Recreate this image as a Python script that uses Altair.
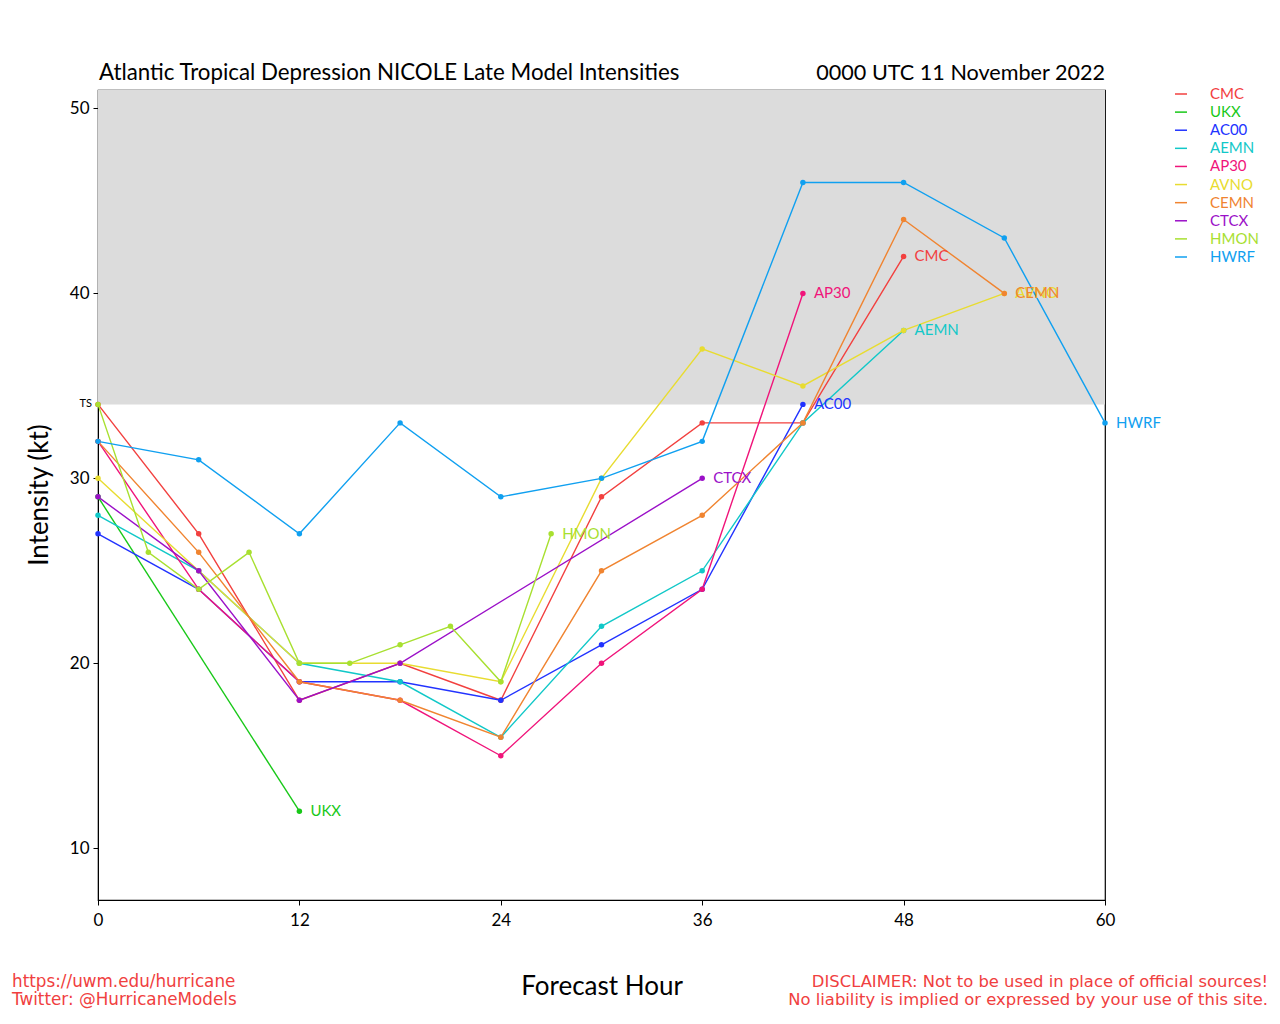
import altair as alt
import pandas as pd

MODELS = ["CMC", "UKX", "AC00", "AEMN", "AP30", "AVNO", "CEMN", "CTCX", "HMON", "HWRF"]
COLORS = ["#F2403F", "#18C818", "#2233FF", "#11C8C8", "#F0147A",
          "#E8DC30", "#F08430", "#9B10C8", "#A8E030", "#10A0F0"]

CMC_HOURS = [0, 6, 12, 18, 24, 30, 36, 42, 48]
CMC_KT = [34, 27, 18, 20, 18, 29, 33, 33, 42]
UKX_HOURS = [0, 12]
UKX_KT = [29, 12]
AC00_HOURS = [0, 6, 12, 18, 24, 30, 36, 42]
AC00_KT = [27, 24, 19, 19, 18, 21, 24, 34]
AEMN_HOURS = [0, 6, 12, 18, 24, 30, 36, 42, 48]
AEMN_KT = [28, 25, 20, 19, 16, 22, 25, 33, 38]
AP30_HOURS = [0, 6, 12, 18, 24, 30, 36, 42]
AP30_KT = [32, 24, 19, 18, 15, 20, 24, 40]
AVNO_HOURS = [0, 6, 12, 18, 24, 30, 36, 42, 48, 54]
AVNO_KT = [30, 25, 20, 20, 19, 30, 37, 35, 38, 40]
CEMN_HOURS = [0, 6, 12, 18, 24, 30, 36, 42, 48, 54]
CEMN_KT = [32, 26, 19, 18, 16, 25, 28, 33, 44, 40]
CTCX_HOURS = [0, 6, 12, 18, 36]
CTCX_KT = [29, 25, 18, 20, 30]
HMON_HOURS = [0, 3, 6, 9, 12, 15, 18, 21, 24, 27]
HMON_KT = [34, 26, 24, 26, 20, 20, 21, 22, 19, 27]
HWRF_HOURS = [0, 6, 12, 18, 24, 30, 36, 42, 48, 54, 60]
HWRF_KT = [32, 31, 27, 33, 29, 30, 32, 46, 46, 43, 33]

X_TICKS = [0, 12, 24, 36, 48, 60]
Y_TICKS = [10, 20, 30, 40, 50]
TS_THRESHOLD = 34
Y_MIN, Y_MAX = 7.2, 51
X_MIN, X_MAX = 0, 60

TITLE_LEFT = "Atlantic Tropical Depression NICOLE Late Model Intensities"
TITLE_RIGHT = "0000 UTC 11 November 2022"
FOOT_LEFT = ["https://uwm.edu/hurricane", "Twitter: @HurricaneModels"]
FOOT_RIGHT = ["DISCLAIMER: Not to be used in place of official sources!",
              "No liability is implied or expressed by your use of this site."]

series = {
    "CMC": (CMC_HOURS, CMC_KT), "UKX": (UKX_HOURS, UKX_KT),
    "AC00": (AC00_HOURS, AC00_KT), "AEMN": (AEMN_HOURS, AEMN_KT),
    "AP30": (AP30_HOURS, AP30_KT), "AVNO": (AVNO_HOURS, AVNO_KT),
    "CEMN": (CEMN_HOURS, CEMN_KT), "CTCX": (CTCX_HOURS, CTCX_KT),
    "HMON": (HMON_HOURS, HMON_KT), "HWRF": (HWRF_HOURS, HWRF_KT),
}

rows, last_rows = [], []
for i, m in enumerate(MODELS):
    hrs, kts = series[m]
    for h, k in zip(hrs, kts):
        rows.append({"model": m, "order": i, "hour": h, "kt": k})
    last_rows.append({"model": m, "order": i, "hour": hrs[-1], "kt": kts[-1]})
df = pd.DataFrame(rows)
last = pd.DataFrame(last_rows)
leg = pd.DataFrame({"model": MODELS, "rank": list(range(len(MODELS)))})

FONT = "Lato"
FOOT_FONT = "DejaVu Sans"
xs = alt.Scale(domain=[X_MIN, X_MAX], nice=False, zero=False)
ys = alt.Scale(domain=[Y_MIN, Y_MAX], nice=False, zero=False)
cs = alt.Scale(domain=MODELS, range=COLORS)
COL = alt.Color("model:N", scale=cs, legend=None)

X_AX = alt.Axis(values=X_TICKS, title=None, grid=False, labelFlush=False, labelOverlap=False,
                labelFontSize=17, labelFont=FONT, labelColor="black", tickColor="black",
                domainColor="black", tickSize=5, labelPadding=7, format="d")
Y_AX = alt.Axis(values=Y_TICKS, title=None, grid=False, labelFlush=False,
                labelFontSize=17, labelFont=FONT, labelColor="black", tickColor="black",
                domainColor="black", tickSize=5, labelPadding=4, format="d")

bg = alt.Chart(pd.DataFrame({"y0": [TS_THRESHOLD], "y1": [Y_MAX], "x0": [X_MIN], "x1": [X_MAX]})).mark_rect(
    color="#DCDCDC").encode(
    x=alt.X("x0:Q", scale=xs, axis=X_AX), x2="x1:Q",
    y=alt.Y("y0:Q", scale=ys, axis=Y_AX), y2="y1:Q")

ts = alt.Chart(pd.DataFrame({"y": [TS_THRESHOLD], "t": ["TS"]})).mark_text(
    align="right", baseline="middle", fontSize=11, font=FONT, color="black", dx=-6).encode(
    x=alt.value(0), y=alt.Y("y:Q", scale=ys, axis=None), text="t:N")

base = alt.Chart(df)
lines = base.mark_line(strokeWidth=1.4).encode(
    x=alt.X("hour:Q", scale=xs, axis=X_AX), y=alt.Y("kt:Q", scale=ys, axis=None),
    color=COL, detail="model:N", order="hour:Q")
pts = base.mark_circle(size=30, opacity=1).encode(
    x=alt.X("hour:Q", scale=xs, axis=X_AX), y=alt.Y("kt:Q", scale=ys, axis=None), color=COL)
lbls = alt.Chart(last).mark_text(align="left", baseline="middle", dx=11, fontSize=15, font=FONT).encode(
    x=alt.X("hour:Q", scale=xs, axis=X_AX), y=alt.Y("kt:Q", scale=ys, axis=None),
    text="model:N", color=COL, order="order:Q")

ly = alt.Y("rank:Q", scale=alt.Scale(domain=[0, 9], range=[4, 167], nice=False, zero=False), axis=None)
leg_rule = alt.Chart(leg).mark_rule(strokeWidth=1.5).encode(
    x=alt.value(1077), x2=alt.value(1089), y=ly, color=COL)
leg_text = alt.Chart(leg).mark_text(align="left", baseline="middle", fontSize=15, font=FONT).encode(
    x=alt.value(1112), y=ly, text="model:N", color=COL)

def txt(s, x, y, align="left", size=16, color="black", angle=0, baseline="alphabetic", font=FONT):
    kw = dict(align=align, baseline=baseline, fontSize=size, font=font, color=color, text=s)
    if angle:
        kw["angle"] = angle
    return alt.Chart(pd.DataFrame({"a": [0]})).mark_text(**kw).encode(x=alt.value(x), y=alt.value(y))

RED = "#F04040"
texts = [
    txt(TITLE_LEFT, 1, -10, size=22.3),
    txt(TITLE_RIGHT, 1007, -10, align="right", size=21.6),
    txt("Intensity (kt)", -58, 405, align="center", size=26, angle=270, baseline="middle"),
    txt("Forecast Hour", 504, 897, align="center", size=26, baseline="middle"),
    txt(FOOT_LEFT[0], -86, 892, size=16.8, color=RED, baseline="middle", font=FOOT_FONT),
    txt(FOOT_LEFT[1], -86, 910, size=16.8, color=RED, baseline="middle", font=FOOT_FONT),
    txt(FOOT_RIGHT[0], 1170, 892, align="right", size=16.4, color=RED, baseline="middle", font=FOOT_FONT),
    txt(FOOT_RIGHT[1], 1170, 910, align="right", size=16.4, color=RED, baseline="middle", font=FOOT_FONT),
]

chart = alt.layer(bg, ts, lines, pts, lbls, leg_rule, leg_text, *texts).resolve_scale(
    y="independent").properties(
    width=1007, height=810,
    autosize=alt.AutoSizeParams(type="none"),
    padding={"left": 90, "top": 82, "right": 167, "bottom": 110},
    background="white",
).configure_view(stroke="black", strokeWidth=1.2)

chart.save("out.html", embed_options={"renderer": "svg", "actions": False})
